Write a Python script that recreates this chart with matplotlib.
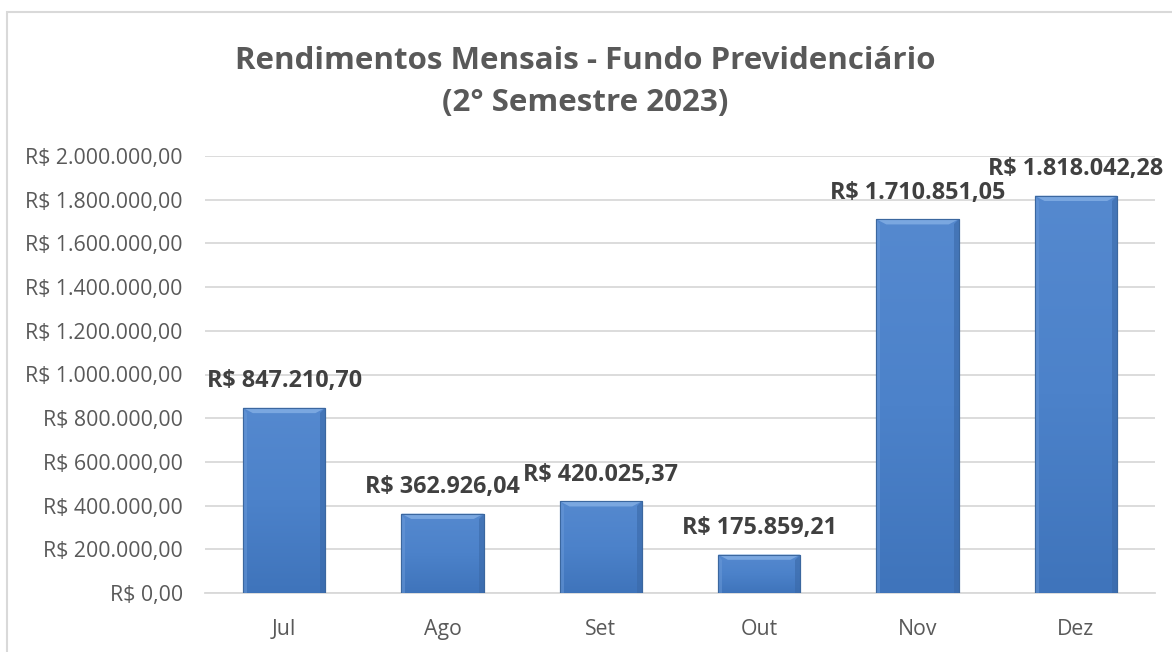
"""Rendimentos mensais do fundo previdenciário - 2º semestre 2023."""

import matplotlib

matplotlib.use("Agg")

import matplotlib.pyplot as plt
import numpy as np
from matplotlib.colors import LinearSegmentedColormap
from matplotlib.patches import Polygon, Rectangle
from matplotlib.ticker import FuncFormatter

months = ["Jul", "Ago", "Set", "Out", "Nov", "Dez"]
rendimentos = [847210.70, 362926.04, 420025.37, 175859.21, 1710851.05, 1818042.28]
y_ticks = [0, 200000, 400000, 600000, 800000, 1000000, 1200000, 1400000, 1600000, 1800000, 2000000]

TEXT = "#595959"
GRID = "#d9d9d9"
FONT = "Open Sans"


def brl(value, _pos=None):
    s = f"{value:,.2f}"
    s = s.replace(",", "X").replace(".", ",").replace("X", ".")
    return f"R$ {s}"


plt.rcParams["font.family"] = [FONT, "DejaVu Sans"]

fig = plt.figure(figsize=(11.72, 6.52), dpi=100)
W, H = 1172, 652
ax = fig.add_axes([205 / W, 1 - 593 / H, 950 / W, (593 - 156) / H])

# chart frame, cut off at the right and bottom like the screenshot
fig.patches.append(
    Rectangle((7 / W, -0.1), 1.2, (652 - 12) / H + 0.1, transform=fig.transFigure,
              fill=False, edgecolor=GRID, linewidth=1.5, zorder=0)
)

x = np.arange(len(months))
bar_w = 0.52
bars = ax.bar(x, rendimentos, width=bar_w, color="#4a7ec6", edgecolor="#3b679f",
              linewidth=0.8, zorder=3)

cmap = LinearSegmentedColormap.from_list("bevel", ["#3f74bb", "#4c82ca", "#5589cf"])
grad = np.linspace(0, 1, 256).reshape(-1, 1)
for bar in bars:
    x0, w, h = bar.get_x(), bar.get_width(), bar.get_height()
    im = ax.imshow(grad, cmap=cmap, aspect="auto", origin="lower",
                   extent=(x0, x0 + w, 0, h), zorder=3.5)
    im.set_clip_path(bar)
    # bevel: light top facet, soft left edge, darker right side
    bx = w * 0.12
    by = 2000000 * 0.012 * (w / bar_w)
    ax.add_patch(Polygon([(x0, h), (x0 + w, h), (x0 + w - bx, h - by), (x0 + bx, h - by)],
                         closed=True, facecolor="#7aa7e0", edgecolor="none", zorder=4))
    ax.add_patch(Polygon([(x0, h), (x0, 0), (x0 + bx * 0.4, 0), (x0 + bx * 0.4, h - by)],
                         closed=True, facecolor="#6b9ad8", edgecolor="none", alpha=0.5, zorder=4))
    ax.add_patch(Polygon([(x0 + w, h), (x0 + w, 0), (x0 + w - bx * 0.5, 0),
                          (x0 + w - bx * 0.5, h - by)],
                         closed=True, facecolor="#3a69a8", edgecolor="none", alpha=0.6, zorder=4))
    ax.add_patch(Rectangle((x0, 0), w, h, fill=False, edgecolor="#3b679f",
                           linewidth=0.8, zorder=5))

for xi, val in zip(x, rendimentos):
    ax.annotate(brl(val), (xi, val), xytext=(0, 26.5), textcoords="offset pixels",
                ha="center", va="center", fontsize=16.8, fontweight="bold",
                color="#404040", zorder=6, annotation_clip=False)

ax.set_xlim(-0.5, len(months) - 0.5)
ax.set_ylim(0, 2000000)
ax.set_yticks(y_ticks)
ax.yaxis.set_major_formatter(FuncFormatter(brl))
ax.set_xticks(x)
ax.set_xticklabels(months)
ax.grid(axis="y", color=GRID, linewidth=1.3, zorder=0)
ax.set_axisbelow(True)
for side in ["top", "right", "left"]:
    ax.spines[side].set_visible(False)
ax.spines["bottom"].set_color(GRID)
ax.spines["bottom"].set_linewidth(1.3)
ax.tick_params(axis="both", length=0, labelsize=15.3, colors=TEXT)
ax.tick_params(axis="y", pad=16)
ax.tick_params(axis="x", pad=19)

fig.text(585 / W, 1 - 82 / H, "Rendimentos Mensais - Fundo Previdenciário\n(2° Semestre 2023)",
         ha="center", va="center", fontsize=22.5, fontweight="bold", color=TEXT,
         linespacing=1.55)

fig.savefig("out.png", dpi=100)
